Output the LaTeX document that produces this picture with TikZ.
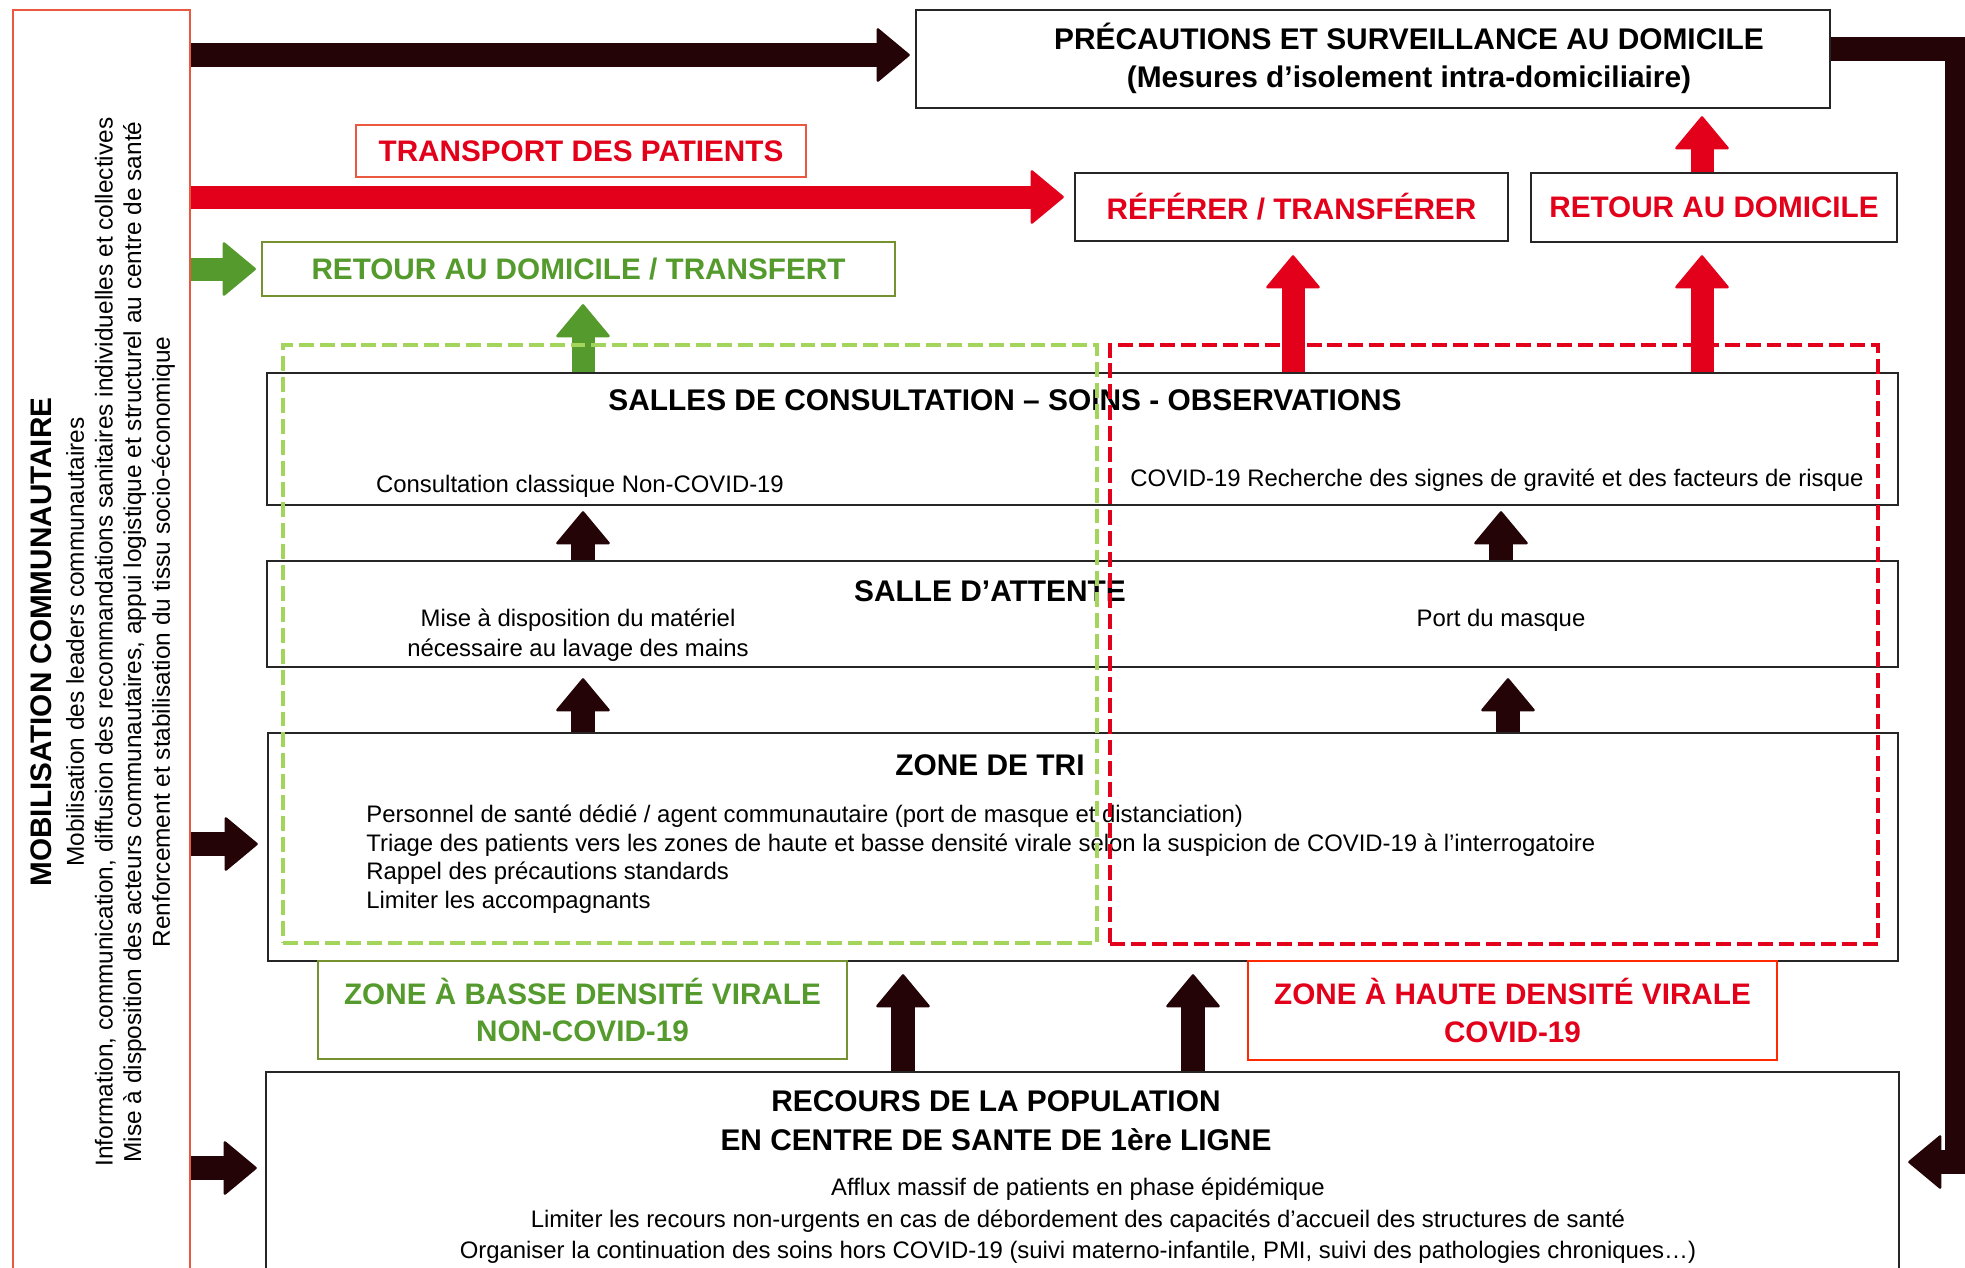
\documentclass[tikz,border=0pt]{standalone}
\usepackage{fontspec}
\setmainfont{Liberation Sans}
\usepackage{tikz}
\usetikzlibrary{arrows.meta, positioning, calc, fit}

\definecolor{arrowdark}{RGB}{36,4,6}
\definecolor{covidred}{RGB}{226,0,26}
\definecolor{orangered}{RGB}{234,88,64}
\definecolor{hautered}{RGB}{255,42,0}
\definecolor{leafgreen}{RGB}{84,154,44}
\definecolor{olivegreen}{RGB}{118,146,48}
\definecolor{lightgreen}{RGB}{163,212,92}

\tikzset{
    zonebox/.style={
        rectangle, draw=black!85, line width=1.4pt, inner sep=0pt
    },
    mobilbox/.style={
        rectangle, draw=orangered, line width=1.3pt, inner sep=0pt
    },
    labelbox_red/.style={
        rectangle, draw=orangered, line width=1.3pt, inner sep=0pt, align=center,
        text=covidred, font=\fontsize{16.9}{21.6}\selectfont\bfseries
    },
    labelbox_black/.style={
        rectangle, draw=black!85, line width=1.4pt, inner sep=0pt, align=center,
        text=covidred, font=\fontsize{16.9}{21.6}\selectfont\bfseries
    },
    labelbox_haute/.style={
        rectangle, draw=hautered, line width=1.4pt, inner sep=0pt, align=center,
        text=covidred, font=\fontsize{16.9}{21.6}\selectfont\bfseries
    },
    labelbox_green/.style={
        rectangle, draw=olivegreen, line width=1.3pt, inner sep=0pt, align=center,
        text=leafgreen, font=\fontsize{16.9}{21.6}\selectfont\bfseries
    },
    heading/.style={
        inner sep=0pt, align=center, font=\fontsize{17}{21.6}\selectfont\bfseries
    },
    bodytext/.style={
        inner sep=0pt, align=center, font=\fontsize{13.6}{17.1}\selectfont
    },
    mobiltext/.style={
        inner sep=0pt, align=center, font=\fontsize{13.9}{16.3}\selectfont
    },
    arrow_dark/.style={
        line width=0.48cm, draw=arrowdark,
        -{Triangle[length=0.68cm, width=1.12cm, line width=1.5pt, round]}
    },
    arrow_red/.style={
        line width=0.46cm, draw=covidred,
        -{Triangle[length=0.68cm, width=1.12cm, line width=1.5pt, round]}
    },
    arrow_green/.style={
        line width=0.46cm, draw=leafgreen,
        -{Triangle[length=0.68cm, width=1.12cm, line width=1.5pt, round]}
    },
    dashzone_green/.style={
        rectangle, draw=lightgreen, line width=2.6pt, inner sep=0pt,
        dash pattern=on 8.5pt off 3.4pt
    },
    dashzone_red/.style={
        rectangle, draw=covidred, line width=2.6pt, inner sep=0pt,
        dash pattern=on 8.5pt off 3.4pt
    }
}

\begin{document}
\begin{tikzpicture}[x=0.02cm, y=-0.02cm]
    \useasboundingbox (0,0) rectangle (1965,1268);
    \clip (0,0) rectangle (1965,1268);
    \fill[white] (0,0) rectangle (1965,1268);

    \node[mobilbox, fit={(13,10) (190,1300)}] (mobil) {};
    \node[mobiltext, rotate=90] (mobilT) at (103,642) {{\fontsize{16.9}{16.3}\selectfont\bfseries MOBILISATION COMMUNAUTAIRE}\\[2pt]
        Mobilisation des leaders communautaires\\
        Information, communication, diffusion des recommandations sanitaires individuelles et collectives\\
        Mise à disposition des acteurs communautaires, appui logistique et structurel au centre de santé\\
        Renforcement et stabilisation du tissu socio-économique};

    \node[zonebox, fit={(916,10) (1830,108)}] (precaution) {};
    \node[heading] (precautionT) at (1409,58) {PRÉCAUTIONS ET SURVEILLANCE AU DOMICILE\\(Mesures d’isolement intra-domiciliaire)};

    \node[labelbox_red, minimum width=9cm, minimum height=1.04cm] (transport) at (581,151) {TRANSPORT DES PATIENTS};
    \node[labelbox_black, minimum width=8.66cm, minimum height=1.36cm] (referer) at (1291.5,207) {RÉFÉRER / TRANSFÉRER};
    \node[labelbox_black, minimum width=7.32cm, minimum height=1.38cm] (retour) at (1714,207.5) {RETOUR AU DOMICILE};
    \node[labelbox_green, minimum width=12.66cm, minimum height=1.08cm] (retgreen) at (578.5,269) {RETOUR AU DOMICILE / TRANSFERT};

    \node[zonebox, fit={(267,373) (1898,505)}] (salles) {};
    \node[heading] (sallesT) at (1005,400) {SALLES DE CONSULTATION – SOINS - OBSERVATIONS};
    \node[bodytext] (sallesL) at (580,486) {Consultation classique Non-COVID-19};
    \node[bodytext] (sallesR) at (1497,480) {COVID-19 Recherche des signes de gravité et des facteurs de risque};

    \node[zonebox, fit={(267,561) (1898,667)}] (attente) {};
    \node[heading] (attenteT) at (990,591) {SALLE D’ATTENTE};
    \node[bodytext] (attenteL) at (578,635) {Mise à disposition du matériel\\nécessaire au lavage des mains};
    \node[bodytext] (attenteR) at (1501,620) {Port du masque};

    \node[zonebox, fit={(268,733) (1898,961)}] (zonetri) {};
    \node[heading] (zonetriT) at (990,765) {ZONE DE TRI};
    \node[bodytext, align=left, anchor=west, font=\fontsize{13.6}{16.2}\selectfont] (zonetriL) at (366,859) {Personnel de santé dédié / agent communautaire (port de masque et distanciation)\\
        Triage des patients vers les zones de haute et basse densité virale selon la suspicion de COVID-19 à l’interrogatoire\\
        Rappel des précautions standards\\
        Limiter les accompagnants};

    \node[labelbox_green, minimum width=10.58cm, minimum height=1.96cm] (basse) at (582.5,1010) {ZONE À BASSE DENSITÉ VIRALE\\NON-COVID-19};
    \node[labelbox_haute, minimum width=10.58cm, minimum height=1.98cm] (haute) at (1512.5,1010.5) {ZONE À HAUTE DENSITÉ VIRALE\\COVID-19};

    \node[zonebox, fit={(266,1072) (1899,1300)}] (recours) {};
    \node[heading, font=\fontsize{17}{22.2}\selectfont\bfseries] (recoursT) at (996,1121) {RECOURS DE LA POPULATION\\EN CENTRE DE SANTE DE 1ère LIGNE};
    \node[bodytext, font=\fontsize{13.6}{17.9}\selectfont] (recoursL) at (1078,1221) {Afflux massif de patients en phase épidémique\\
        Limiter les recours non-urgents en cas de débordement des capacités d’accueil des structures de santé\\
        Organiser la continuation des soins hors COVID-19 (suivi materno-infantile, PMI, suivi des pathologies chroniques…)};

    \coordinate (row_home) at (0,55);
    \coordinate (row_refer) at (0,197);
    \coordinate (row_tri) at (0,844);
    \coordinate (row_recours) at (0,1168);
    \coordinate (row_edge) at (0,49);
    \coordinate (row_back) at (0,1162);
    \coordinate (col_left) at (583,0);
    \coordinate (col_refer) at (1293,0);
    \coordinate (col_home) at (1702,0);
    \coordinate (col_right) at (1501,0);
    \coordinate (col_right2) at (1508,0);
    \coordinate (col_mid1) at (903,0);
    \coordinate (col_mid2) at (1193,0);
    \coordinate (col_edge) at (1957,0);

    \draw[arrow_dark, shorten >=0.1cm] (mobil.east |- row_home) -- (precaution.west |- row_home);
    \draw[arrow_red, shorten >=0.2cm] (mobil.east |- row_refer) -- (referer.west |- row_refer);
    \draw[arrow_green, shorten >=0.1cm] (mobil.east |- retgreen.west) -- (retgreen.west);
    \draw[arrow_dark, shorten >=0.18cm] (mobil.east |- row_tri) -- (zonetri.west |- row_tri);
    \draw[arrow_dark, shorten >=0.16cm] (mobil.east |- row_recours) -- (recours.west |- row_recours);

    \draw[arrow_green, shorten >=0.14cm] (salles.north -| col_left) -- (retgreen.south -| col_left);
    \draw[arrow_red, shorten >=0.26cm] (salles.north -| col_refer) -- (referer.south -| col_refer);
    \draw[arrow_red, shorten >=0.24cm] (salles.north -| col_home) -- (retour.south -| col_home);
    \draw[arrow_red, shorten >=0.14cm] (retour.north -| col_home) -- (precaution.south -| col_home);
    \draw[arrow_dark, shorten >=0.1cm] (attente.north -| col_left) -- (salles.south -| col_left);
    \draw[arrow_dark, shorten >=0.1cm] (attente.north -| col_right) -- (salles.south -| col_right);
    \draw[arrow_dark, shorten >=0.2cm] (zonetri.north -| col_left) -- (attente.south -| col_left);
    \draw[arrow_dark, shorten >=0.2cm] (zonetri.north -| col_right2) -- (attente.south -| col_right2);
    \draw[arrow_dark, shorten >=0.24cm] (recours.north -| col_mid1) -- (zonetri.south -| col_mid1);
    \draw[arrow_dark, shorten >=0.24cm] (recours.north -| col_mid2) -- (zonetri.south -| col_mid2);
    \draw[arrow_dark, shorten >=0.16cm] (precaution.east |- row_edge) -| (col_edge |- row_back) -- (recours.east |- row_back);

    \node[dashzone_green, fit={(283,345) (1097,943)}] (lowzone) {};
    \node[dashzone_red, fit={(1110,345) (1878,944)}] (highzone) {};
\end{tikzpicture}
\end{document}
